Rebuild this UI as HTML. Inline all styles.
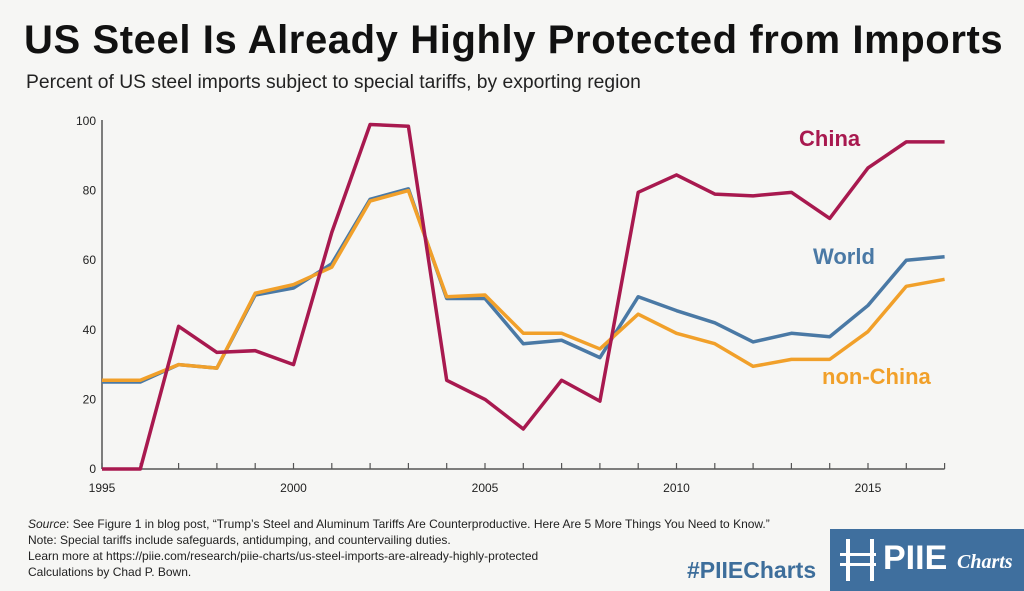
<!DOCTYPE html>
<html><head><meta charset="utf-8"><style>
body{margin:0;width:1024px;height:591px;background:#f6f6f4;overflow:hidden;font-family:"Liberation Sans",sans-serif;position:relative}
.t{position:absolute;white-space:nowrap}
</style></head><body>
<div class="t" style="left:24px;top:18px;font-size:40px;font-weight:bold;color:#111;letter-spacing:0.6px">US Steel Is Already Highly Protected from Imports</div>
<div class="t" style="left:26px;top:72px;font-size:19.3px;color:#222">Percent of US steel imports subject to special tariffs, by exporting region</div>
<svg id="chart" width="1024" height="591" style="position:absolute;left:0;top:0"></svg>
<div class="t" style="left:28px;top:516px;font-size:12px;line-height:16px;color:#222"><i>Source</i>: See Figure 1 in blog post, “Trump’s Steel and Aluminum Tariffs Are Counterproductive. Here Are 5 More Things You Need to Know.”<br>Note: Special tariffs include safeguards, antidumping, and countervailing duties.<br>Learn more at https://piie.com/research/piie-charts/us-steel-imports-are-already-highly-protected<br>Calculations by Chad P. Bown.</div>
<div class="t" style="left:687px;top:557px;font-size:23px;font-weight:bold;color:#3d6e9b">#PIIECharts</div>
<div style="position:absolute;left:830px;top:529px;width:194px;height:62px;background:#3f6f9e">
<div style="position:absolute;left:16px;top:10px;width:28px;height:42px;border-left:4px solid #fff;border-right:4px solid #fff;box-sizing:border-box"></div>
<div style="position:absolute;left:10px;top:24px;width:36px;height:3px;background:#fff"></div>
<div style="position:absolute;left:10px;top:34px;width:36px;height:3px;background:#fff"></div>
<div class="t" style="left:53px;top:10px;font-size:34px;font-weight:bold;color:#fff">PIIE</div>
<div class="t" style="left:127px;top:22px;font-size:20px;font-style:italic;font-weight:bold;color:#fff;font-family:'Liberation Serif',serif">Charts</div>
</div>
<script>
const years=[1995,1996,1997,1998,1999,2000,2001,2002,2003,2004,2005,2006,2007,2008,2009,2010,2011,2012,2013,2014,2015,2016,2017];
const china=[0,0,41,33.5,34,30,68,99,98.5,25.5,20,11.5,25.5,19.5,79.5,84.5,79,78.5,79.5,72,86.5,94,94];
const world=[25,25,30,29,50,52,59,77.5,80.5,49,49,36,37,32,49.5,45.5,42,36.5,39,38,47,60,61];
const nonChina=[25.5,25.5,30,29,50.5,53,58,77,80,49.5,50,39,39,34.5,44.5,39,36,29.5,31.5,31.5,39.5,52.5,54.5];
const yTicks=[0,20,40,60,80,100];
const xLabels=[1995,2000,2005,2010,2015];
const svg=document.getElementById('chart');const NS='http://www.w3.org/2000/svg';
const x=y=>102+(y-1995)*38.3, yv=v=>469-v*3.48;
function mk(t,a){const e=document.createElementNS(NS,t);for(const k in a)e.setAttribute(k,a[k]);svg.appendChild(e);return e;}
let e=mk('line',{x1:x(1995),x2:x(2017),y1:469,y2:469,stroke:'#555','stroke-width':1.5});

e=mk('line',{x1:x(1995),x2:x(1995),y1:120,y2:469,stroke:'#555','stroke-width':1.5});

years.forEach(yr=>{const t=mk('line',{x1:x(yr),x2:x(yr),y1:463,y2:469,stroke:'#555','stroke-width':1.2});
});
yTicks.forEach(v=>{const t=mk('text',{x:x(1995)-6,y:yv(v)+4,'text-anchor':'end','font-size':12,fill:'#222','font-family':'Liberation Sans'});t.textContent=v;
});
xLabels.forEach(v=>{const t=mk('text',{x:x(v),y:492,'text-anchor':'middle','font-size':12,fill:'#222','font-family':'Liberation Sans'});t.textContent=v;
});
function line(d,c,n){const p=mk('polyline',{points:d.map((v,i)=>x(years[i])+','+yv(v)).join(' '),fill:'none',stroke:c,'stroke-width':3.5,'stroke-linejoin':'round'});
}
line(world,'#4a79a5','world-line');line(nonChina,'#f1a02a','non-china-line');line(china,'#a8194f','china-line');
function lab(txt,xx,yy,c,n){const t=mk('text',{x:xx,y:yy,'font-size':22,'font-weight':'bold',fill:c,'font-family':'Liberation Sans'});t.textContent=txt;
}
lab('China',799,146,'#a8194f','china-label');lab('World',813,264,'#4a79a5','world-label');lab('non-China',822,384,'#f1a02a','non-china-label');
</script>
</body></html>
